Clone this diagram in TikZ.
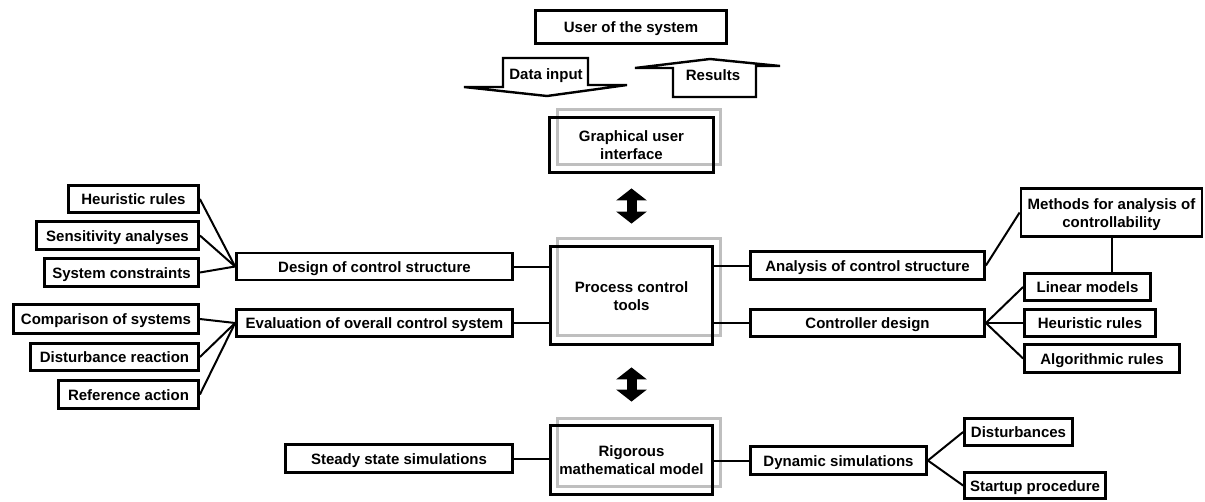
\documentclass[tikz,border=0pt]{standalone}
\usepackage{fontspec}
\setmainfont{Liberation Sans}
\usetikzlibrary{arrows.meta}
\begin{document}
\begin{tikzpicture}[x=1pt,y=-1pt,
 bx/.style={draw, line width=2.8pt, inner sep=0pt, font=\fontsize{15}{18}\selectfont\bfseries, align=center, text height=11pt, text depth=0pt},
 twoline/.style={text height=29pt, text depth=0pt},
 gbx/.style={draw=black!25, line width=2.8pt, inner sep=0pt},
 ln/.style={line width=2pt},
 dbl/.style={line width=10pt, {Triangle[width=30pt,length=12pt]}-{Triangle[width=30pt,length=12pt]}},
 bigarrow/.style={draw, line width=2.4pt, fill=white, line join=miter},
 lbl/.style={font=\fontsize{15}{18}\selectfont\bfseries, inner sep=0pt, text height=11pt, text depth=0pt}]
\useasboundingbox (0,0) rectangle (1205,501);

% top
\node[bx, minimum width=191, minimum height=33] (user) at (631,27) {User of the system};
\draw[bigarrow] (503,58) -- (588,58) -- (588,85) -- (627,85) -- (547,96) -- (464,87) -- (503,87) -- cycle;
\node[lbl] (datain) at (546,74) {Data input};
\draw[bigarrow] (673,97) -- (673,68) -- (635,68) -- (710,59) -- (780,66) -- (756,66) -- (756,97) -- cycle;
\node[lbl] (results) at (713,75) {Results};

% central column
\node[gbx, minimum width=163, minimum height=55] (guig) at (639,137) {};
\node[bx, twoline, minimum width=164, minimum height=55] (gui) at (631.5,145) {Graphical user\\interface};
\node[gbx, minimum width=163, minimum height=97] (pctg) at (639,287) {};
\node[bx, twoline, minimum width=162, minimum height=98] (pct) at (631.5,295.5) {Process control\\tools};
\node[gbx, minimum width=163, minimum height=68] (rmmg) at (639,452.5) {};
\node[bx, twoline, minimum width=162, minimum height=69] (rmm) at (631.5,460) {Rigorous\\mathematical model};

\draw[dbl] ([yshift=-14.5pt]gui.south) -- ([yshift=21.5pt]pct.north);
\draw[dbl] ([yshift=-21.5pt]pct.south) -- ([yshift=22.5pt]rmm.north);

% left side
\node[bx, minimum width=276, minimum height=27] (design) at (374.5,266.5) {Design of control structure};
\node[bx, minimum width=276, minimum height=27] (eval) at (374.5,323) {Evaluation of overall control system};
\node[bx, minimum width=130, minimum height=27] (heurL) at (133.5,199) {Heuristic rules};
\node[bx, minimum width=162, minimum height=28] (sens) at (117.5,235.5) {Sensitivity analyses};
\node[bx, minimum width=154, minimum height=28] (syscon) at (121.5,272.5) {System constraints};
\node[bx, minimum width=185, minimum height=29] (comp) at (106,319) {Comparison of systems};
\node[bx, minimum width=168, minimum height=27] (distr) at (114.5,357) {Disturbance reaction};
\node[bx, minimum width=140, minimum height=28] (ref) at (128.5,394.5) {Reference action};

% right side
\node[bx, minimum width=234, minimum height=28] (analysis) at (867.5,265.5) {Analysis of control structure};
\node[bx, minimum width=234, minimum height=27] (ctrl) at (867.5,323) {Controller design};
\node[bx, twoline, minimum width=181, minimum height=48] (methods) at (1111.5,212.5) {Methods for analysis of\\controllability};
\node[bx, minimum width=126, minimum height=27] (linear) at (1087.5,287) {Linear models};
\node[bx, minimum width=131, minimum height=27] (heurR) at (1090,323) {Heuristic rules};
\node[bx, minimum width=155, minimum height=28] (algo) at (1102,358.5) {Algorithmic rules};

% bottom
\node[bx, minimum width=227, minimum height=28] (steady) at (399,458.5) {Steady state simulations};
\node[bx, minimum width=176, minimum height=28] (dyn) at (838.5,460.5) {Dynamic simulations};
\node[bx, minimum width=108, minimum height=27] (disturb) at (1018.5,432) {Disturbances};
\node[bx, minimum width=141, minimum height=26] (startup) at (1035,485.5) {Startup procedure};

% connectors
\draw[ln] (design.east) -- (design.east -| pct.west);
\draw[ln] (eval.east) -- (eval.east -| pct.west);
\draw[ln] (analysis.west) -- (analysis.west -| pct.east);
\draw[ln] (ctrl.west) -- (ctrl.west -| pct.east);
\draw[ln] (steady.east) -- (steady.east -| rmm.west);
\draw[ln] (dyn.west) -- (dyn.west -| rmm.east);

\draw[ln] (heurL.east) -- (design.west);
\draw[ln] (sens.east) -- (design.west);
\draw[ln] (syscon.east) -- (design.west);
\draw[ln] (comp.east) -- (eval.west);
\draw[ln] (distr.east) -- (eval.west);
\draw[ln] (ref.east) -- (eval.west);

\draw[ln] (analysis.east) -- (methods.west);
\draw[ln] (methods.south) -- (methods.south |- linear.north);
\draw[ln] (ctrl.east) -- (linear.west);
\draw[ln] (ctrl.east) -- (heurR.west);
\draw[ln] (ctrl.east) -- (algo.west);
\draw[ln] (dyn.east) -- (disturb.west);
\draw[ln] (dyn.east) -- (startup.west);
\end{tikzpicture}
\end{document}
